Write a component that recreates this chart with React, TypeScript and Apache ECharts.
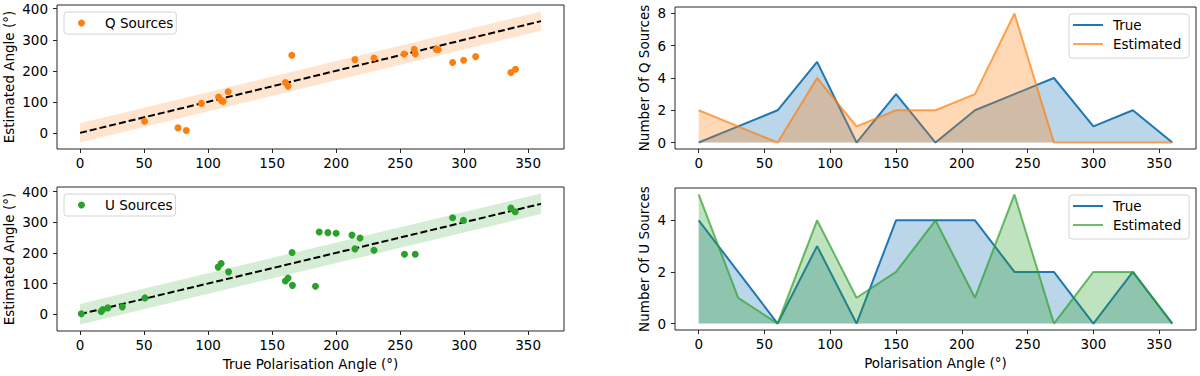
import React, { useEffect, useRef } from 'react';
import * as echarts from 'echarts';

// ---------- data ----------
const Q_TRUE = [50.4, 76.5, 83, 94.8, 108.2, 110.2, 111.8, 115.7, 160.4, 162.5, 165.4, 214.7, 229.6, 253.1, 261, 261.8, 278.2, 279.8, 291, 299.6, 309, 336.5, 340.1];
const Q_EST = [37.4, 16, 7.5, 95, 115.4, 104.7, 101.5, 132.5, 162.4, 150.6, 250, 236, 241.5, 254, 269, 254, 269, 268, 226.5, 234, 245.7, 194.4, 205];

const U_TRUE = [1, 16.5, 17.8, 21.7, 33, 50.7, 107.9, 110.2, 116, 165.6, 160.4, 162.5, 165.9, 183.9, 186.8, 193.6, 200, 212.4, 218.7, 214.7, 229.6, 253.4, 261.8, 291, 299.4, 336.5, 339.9];
const U_EST = [1, 8.6, 15, 20.5, 23.8, 53, 153.5, 165.4, 138, 201, 108, 117.8, 94, 90.8, 268, 266, 264, 258, 248.6, 213, 208.6, 195.7, 195.7, 314.6, 306, 346, 334];

const Q_BAND = 31;
const U_BAND = 33.5;
const LINE_X = [0, 360];

const BIN_X = [0, 30, 60, 90, 120, 150, 180, 210, 240, 270, 300, 330, 360];
const Q_HIST_TRUE = [0, 1, 2, 5, 0, 3, 0, 2, 3, 4, 1, 2, 0];
const Q_HIST_EST = [2, 1, 0, 4, 1, 2, 2, 3, 8, 0, 0, 0, 0];
const U_HIST_TRUE = [4, 2, 0, 3, 0, 4, 4, 4, 2, 2, 0, 2, 0];
const U_HIST_EST = [5, 1, 0, 4, 1, 2, 4, 1, 5, 0, 2, 2, 0];

const X_TICKS = [0, 50, 100, 150, 200, 250, 300, 350];
const ANGLE_TICKS = [0, 100, 200, 300, 400];
const Q_COUNT_TICKS = [0, 2, 4, 6, 8];
const U_COUNT_TICKS = [0, 2, 4];

// ---------- style ----------
const FONT = 'DejaVu Sans';
const FS = 13.5;
const AX = '#262626';
const BLUE = '#1f77b4';
const ORANGE = '#ff7f0e';
const GREEN = '#2ca02c';

const pairs = (xs: number[], ys: number[]) => xs.map((x, i) => [x, ys[i]]);

function xAxis(gridIndex: number, name: string) {
  return {
    type: 'value', gridIndex, min: -18, max: 378,
    splitLine: { show: false },
    axisLine: { show: false, onZero: false },
    axisTick: { show: true, length: 4, lineStyle: { color: AX, width: 1 }, customValues: X_TICKS },
    axisLabel: { customValues: X_TICKS, color: '#000', fontFamily: FONT, fontSize: FS, margin: 7 },
    name, nameLocation: 'middle', nameGap: 26,
    nameTextStyle: { color: '#000', fontFamily: FONT, fontSize: FS },
  };
}

function yAxis(gridIndex: number, min: number, max: number, ticks: number[], name: string, gap: number) {
  return {
    type: 'value', gridIndex, min, max,
    splitLine: { show: false },
    axisLine: { show: false, onZero: false },
    axisTick: { show: true, length: 4, lineStyle: { color: AX, width: 1 }, customValues: ticks },
    axisLabel: { customValues: ticks, color: '#000', fontFamily: FONT, fontSize: FS, margin: 9 },
    name, nameLocation: 'middle', nameGap: gap,
    nameTextStyle: { color: '#000', fontFamily: FONT, fontSize: FS },
  };
}

function band(idx: number, half: number, color: string) {
  return {
    type: 'custom', xAxisIndex: idx, yAxisIndex: idx, silent: true, z: 1, clip: true,
    data: [[LINE_X[0], LINE_X[1]]],
    renderItem: (_p: any, api: any) => {
      const x0 = api.value(0);
      const x1 = api.value(1);
      const pts = [[x0, x0 - half], [x1, x1 - half], [x1, x1 + half], [x0, x0 + half]].map((p) => api.coord(p));
      return { type: 'polygon', shape: { points: pts }, style: { fill: color } };
    },
  };
}

function dashed(idx: number) {
  return {
    type: 'line', xAxisIndex: idx, yAxisIndex: idx, symbol: 'none', silent: true, z: 3,
    data: LINE_X.map((x) => [x, x]),
    lineStyle: { color: '#000', width: 2, type: [7, 3] },
  };
}

function scatter(idx: number, name: string, xs: number[], ys: number[], color: string) {
  return {
    type: 'scatter', name, xAxisIndex: idx, yAxisIndex: idx, z: 4,
    symbolSize: 7, itemStyle: { color, opacity: 1 },
    data: pairs(xs, ys),
  };
}

function hist(idx: number, name: string, ys: number[], color: string, lineOpacity: number, z: number) {
  return {
    type: 'line', name, xAxisIndex: idx, yAxisIndex: idx, symbol: 'none', z,
    color,
    data: pairs(BIN_X, ys),
    lineStyle: { color, width: 2, opacity: lineOpacity },
    areaStyle: { color, opacity: 0.3 },
  };
}

function scatterLegend(name: string, top: number) {
  return {
    data: [name], left: 64, top, orient: 'vertical',
    icon: 'circle', itemWidth: 7, itemHeight: 7,
    padding: [4, 3, 4, 14],
    backgroundColor: 'rgba(255,255,255,0.8)', borderColor: '#d4d4d4', borderWidth: 1, borderRadius: 3,
    textStyle: { fontFamily: FONT, fontSize: FS, color: '#000', padding: [0, 0, 0, 15] },
    selectedMode: false,
  };
}

function histLegend(names: string[], colors: string[], top: number) {
  return {
    data: [
      { name: names[0], itemStyle: { color: colors[0], opacity: 1 } },
      { name: names[1], itemStyle: { color: colors[1], opacity: 0.7 } },
    ],
    left: 1069, top, orient: 'vertical',
    icon: 'rect', itemWidth: 30, itemHeight: 2, itemGap: 5,
    padding: [4, 8, 7, 4],
    formatter: (n: string) => n.replace(/ [QU]$/, ''),
    backgroundColor: 'rgba(255,255,255,0.8)', borderColor: '#d4d4d4', borderWidth: 1, borderRadius: 3,
    textStyle: { fontFamily: FONT, fontSize: FS, color: '#000', padding: [0, 0, 0, 5] },
    selectedMode: false,
  };
}

export default function App() {
  const ref = useRef<HTMLDivElement>(null);
  useEffect(() => {
    document.body.style.margin = '0';
    if (!ref.current) return;
    const chart = echarts.init(ref.current, undefined, { renderer: 'svg' });
    const gridStyle = { show: true, borderColor: AX, borderWidth: 1, backgroundColor: 'transparent' };
    chart.setOption({
      animation: false,
      backgroundColor: '#fff',
      textStyle: { fontFamily: FONT },
      grid: [
        { ...gridStyle, left: 57, top: 5, width: 507, height: 144 },
        { ...gridStyle, left: 57, top: 187, width: 507, height: 144 },
        { ...gridStyle, left: 675, top: 7, width: 521, height: 142 },
        { ...gridStyle, left: 675, top: 188, width: 521, height: 142 },
      ],
      xAxis: [
        xAxis(0, ''),
        xAxis(1, 'True Polarisation Angle (°)'),
        xAxis(2, ''),
        xAxis(3, 'Polarisation Angle (°)'),
      ],
      yAxis: [
        yAxis(0, -52, 412, ANGLE_TICKS, 'Estimated Angle (°)', 41),
        yAxis(1, -55, 415, ANGLE_TICKS, 'Estimated Angle (°)', 41),
        yAxis(2, -0.4, 8.4, Q_COUNT_TICKS, 'Number Of Q Sources', 24),
        yAxis(3, -0.25, 5.25, U_COUNT_TICKS, 'Number Of U Sources', 24),
      ],
      legend: [
        scatterLegend('Q Sources', 12),
        scatterLegend('U Sources', 194),
        histLegend(['True Q', 'Estimated Q'], [BLUE, ORANGE], 14),
        histLegend(['True U', 'Estimated U'], [BLUE, GREEN], 195),
      ],
      series: [
        band(0, Q_BAND, 'rgba(255,127,14,0.2)'),
        scatter(0, 'Q Sources', Q_TRUE, Q_EST, ORANGE),
        dashed(0),
        band(1, U_BAND, 'rgba(44,160,44,0.2)'),
        scatter(1, 'U Sources', U_TRUE, U_EST, GREEN),
        dashed(1),
        hist(2, 'True Q', Q_HIST_TRUE, BLUE, 1, 2),
        hist(2, 'Estimated Q', Q_HIST_EST, ORANGE, 0.7, 3),
        hist(3, 'True U', U_HIST_TRUE, BLUE, 1, 2),
        hist(3, 'Estimated U', U_HIST_EST, GREEN, 0.7, 3),
      ],
    });
    return () => chart.dispose();
  }, []);
  return <div ref={ref} style={{ width: 1200, height: 376 }} />;
}
